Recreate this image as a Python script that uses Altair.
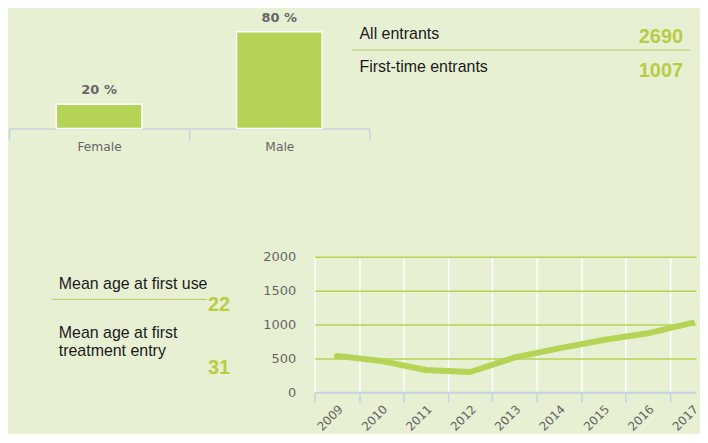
import altair as alt
import pandas as pd

# ---------------- data ----------------
genders = ["Female", "Male"]
gender_pct = [20, 80]

entrant_labels = ["All entrants", "First-time entrants"]
entrant_counts = [2690, 1007]

age_labels = ["Mean age at first use", "Mean age at first\ntreatment entry"]
age_values = [22, 31]

years = [2009, 2010, 2011, 2012, 2013, 2014, 2015, 2016, 2017]
entrants = [537, 463, 328, 299, 513, 648, 772, 871, 1025]
y_ticks = [0, 500, 1000, 1500, 2000]
year_edges = [2008.5, 2009.5, 2010.5, 2011.5, 2012.5, 2013.5, 2014.5, 2015.5, 2016.5]

# ---------------- styles ----------------
BG = "#e8f0d4"
BAR = "#b5d455"
NUM = "#b8cc46"
DIVIDER = "#bac95f"
AXIS = "#c8d3e0"
GREY = "#666666"
TEXT = "#1a1a1a"
LABEL_FONT = "DejaVu Sans"
TEXT_FONT = "Liberation Sans"

# ---------------- gender bars ----------------
gdf = pd.DataFrame({"gender": genders, "pct": gender_pct})
gdf["label"] = gdf["pct"].astype(str) + " %"

xg = alt.X(
    "gender:N", sort=genders, title=None,
    scale=alt.Scale(paddingInner=0, paddingOuter=0),
    axis=alt.Axis(labelAngle=0, tickBand="extent", grid=False,
                  domainColor=AXIS, domainWidth=1.5, tickColor=AXIS,
                  tickWidth=1.5, tickSize=12, labelFont=LABEL_FONT,
                  labelFontSize=12.3, labelColor=GREY, labelPadding=0),
)
yg = alt.Y("pct:Q", scale=alt.Scale(domain=[0, 99]), axis=None)

bars = alt.Chart(gdf).mark_bar(size=86, color=BAR, stroke="white", strokeWidth=1.5).encode(x=xg, y=yg)
bar_text = alt.Chart(gdf).mark_text(
    baseline="middle", dy=-14, font=LABEL_FONT, fontSize=13,
    fontWeight="bold", color=GREY,
).encode(x=xg, y=yg, text="label:N")

# entrants panel (annotation text)
stat_layers = []
stat_label_y = [30, 63]
stat_num_y = [34, 68.3]
for i in range(2):
    stat_layers.append(
        alt.Chart(pd.DataFrame({"t": [entrant_labels[i]]})).mark_text(
            align="left", baseline="alphabetic", font=TEXT_FONT, fontSize=16, color=TEXT
        ).encode(x=alt.value(352), y=alt.value(stat_label_y[i]), text="t:N")
    )
    stat_layers.append(
        alt.Chart(pd.DataFrame({"n": [entrant_counts[i]]})).mark_text(
            align="right", baseline="alphabetic", font=TEXT_FONT, fontSize=20,
            fontWeight="bold", color=NUM
        ).encode(x=alt.value(677), y=alt.value(stat_num_y[i]), text="n:Q")
    )
stat_rule = alt.Chart(pd.DataFrame({"a": [0]})).mark_rule(color=DIVIDER, strokeWidth=1).encode(
    x=alt.value(345), x2=alt.value(684), y=alt.value(41.3)
)

row1 = alt.layer(bars, bar_text, stat_rule, *stat_layers).properties(width=362, height=120)

# ---------------- mean age panel ----------------
age_layers = []
age_label_y = [32.3, 82]
age_num_y = [54.7, 117.7]
for i in range(2):
    age_layers.append(
        alt.Chart(pd.DataFrame({"t": [age_labels[i]]})).mark_text(
            align="left", baseline="alphabetic", font=TEXT_FONT, fontSize=16,
            color=TEXT, lineBreak="\n", lineHeight=17.7
        ).encode(x=alt.value(50), y=alt.value(age_label_y[i]), text="t:N")
    )
    age_layers.append(
        alt.Chart(pd.DataFrame({"n": [age_values[i]]})).mark_text(
            align="right", baseline="alphabetic", font=TEXT_FONT, fontSize=20,
            fontWeight="bold", color=NUM
        ).encode(x=alt.value(222), y=alt.value(age_num_y[i]), text="n:Q")
    )
age_rule = alt.Chart(pd.DataFrame({"a": [0]})).mark_rule(color=DIVIDER, strokeWidth=1).encode(
    x=alt.value(43), x2=alt.value(198.7), y=alt.value(42.7)
)
age_panel = alt.layer(age_rule, *age_layers).properties(width=240, height=136)

# ---------------- line chart ----------------
ldf = pd.DataFrame({"year": years, "n": entrants})
xl = alt.X(
    "year:Q", title=None,
    scale=alt.Scale(domain=[2008.5, 2017.087], nice=False, zero=False),
    axis=alt.Axis(values=year_edges, format="d", labelExpr="datum.value + 0.5",
                  labelOffset=22.3, labelAngle=315, labelAlign="right", labelBaseline="top",
                  domain=False, tickColor=AXIS, tickWidth=1.5, tickSize=10,
                  grid=True, gridColor="white", gridWidth=1.5,
                  labelFont=LABEL_FONT, labelFontSize=12, labelColor=GREY,
                  labelPadding=1, labelFlush=False, labelOverlap=False),
)
yl = alt.Y(
    "n:Q", scale=alt.Scale(domain=[0, 2000]),
    axis=alt.Axis(values=y_ticks, format="d", ticks=False, tickSize=0, domain=False, title=None,
                  gridColor={"condition": {"test": "datum.value === 0", "value": AXIS}, "value": BAR},
                  gridWidth={"condition": {"test": "datum.value === 0", "value": 2}, "value": 1.5},
                  labelFont=LABEL_FONT, labelFontSize=13, labelColor=GREY, labelPadding=19),
)
line = alt.Chart(ldf).mark_line(
    color=BAR, strokeWidth=6, strokeCap="round", strokeJoin="round"
).encode(x=xl, y=yl).properties(width=383, height=136)

row2 = alt.hconcat(age_panel, line, spacing=14)

chart = alt.vconcat(row1, row2, spacing=98).properties(
    background=BG, padding=0
).configure_view(stroke=None)

chart.save("out.html", embed_options={"renderer": "svg", "actions": False})
